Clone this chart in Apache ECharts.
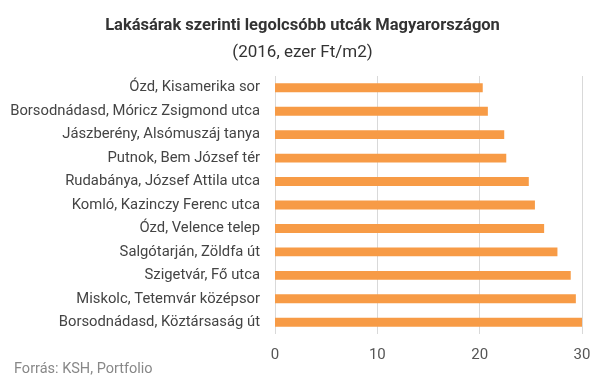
<!DOCTYPE html>
<html><head><meta charset="utf-8">
<script src="https://cdn.jsdelivr.net/npm/echarts@6/dist/echarts.min.js"></script>
<style>html,body{margin:0;padding:0;background:#fff}#c{width:605px;height:379px}</style>
</head><body><div id="c"></div>
<script>
const categories = ["Ózd, Kisamerika sor","Borsodnádasd, Móricz Zsigmond utca","Jászberény, Alsómuszáj tanya","Putnok, Bem József tér","Rudabánya, József Attila utca","Komló, Kazinczy Ferenc utca","Ózd, Velence telep","Salgótarján, Zöldfa út","Szigetvár, Fő utca","Miskolc, Tetemvár középsor","Borsodnádasd, Köztársaság út"];
const values = [20.3,20.8,22.4,22.6,24.8,25.4,26.3,27.6,28.9,29.4,30.0];
const xTicks = [0,10,20,30];
const chart = echarts.init(document.getElementById('c'));
chart.setOption({
  animation:false,
  title:[
    {text:'Lakásárak szerinti legolcsóbb utcák Magyarországon',left:'center',top:12,textStyle:{fontFamily:'Roboto',fontSize:16.5,fontWeight:'bold',color:'#333'}},
    {text:'(2016, ezer Ft/m2)',left:'center',top:39,textStyle:{fontFamily:'Roboto',fontSize:17,fontWeight:'normal',color:'#333'}},
    {text:'Forrás: KSH, Portfolio',left:9,top:357,textStyle:{fontFamily:'Roboto',fontSize:14.5,fontWeight:'normal',color:'#888'}}
  ],
  grid:{left:275,right:23,top:76,bottom:45,containLabel:false},
  xAxis:{type:'value',min:xTicks[0],max:xTicks[xTicks.length-1],interval:10,
    axisLine:{show:false},axisTick:{show:false},
    splitLine:{show:true,lineStyle:{color:'#d9d9d9',width:1}},
    axisLabel:{fontFamily:'Roboto',fontSize:15,color:'#555',margin:14}},
  yAxis:{type:'category',data:categories,inverse:true,
    axisLine:{show:false},axisTick:{show:false},
    axisLabel:{fontFamily:'Roboto',fontSize:14.8,color:'#444',margin:15}},
  series:[{type:'bar',data:values,barCategoryGap:'62%',itemStyle:{color:'#F79B46'}}]
});
</script></body></html>
